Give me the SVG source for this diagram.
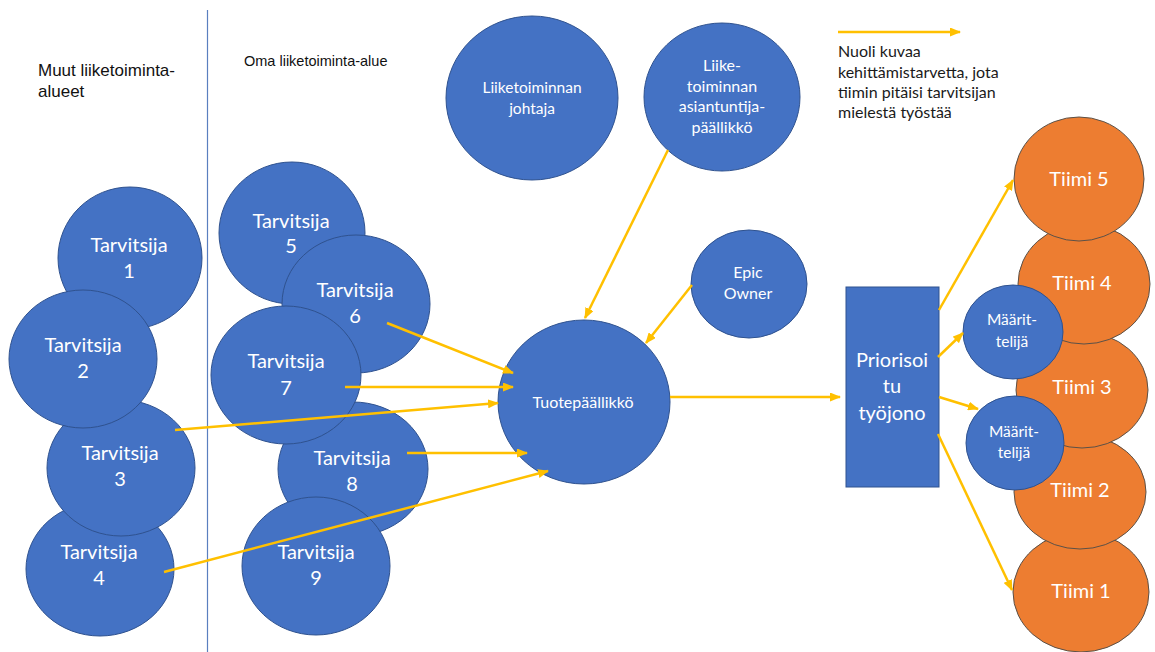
<svg xmlns="http://www.w3.org/2000/svg" width="1155" height="652" viewBox="0 0 1155 652">
  <style>
    .bg { fill: #ffffff; }
    .blue { fill: #4472C4; stroke: #2F528F; stroke-width: 1; }
    .orange { fill: #ED7D31; stroke: #5b5148; stroke-width: 1; }
    .lbl { font-family: Lato, "Liberation Sans", sans-serif; fill: #ffffff; text-anchor: middle; }
    .big { font-size: 20px; }
    .mid { font-size: 16px; }
    .head { font-family: "Liberation Sans", Arial, sans-serif; fill: #111111; }
    .legend { font-family: Lato, "Liberation Sans", sans-serif; font-size: 16px; fill: #1a1a1a; }
    .arrow { stroke: #FFC000; stroke-width: 2.5; fill: none; marker-end: url(#head); }
  </style>
  <defs>
    <marker id="head" markerUnits="userSpaceOnUse" markerWidth="11" markerHeight="9" refX="10" refY="4.5" orient="auto">
      <path d="M0,0 L11,4.5 L0,9 z" fill="#FFC000"/>
    </marker>
  </defs>

  <rect class="bg" x="0" y="0" width="1155" height="652"/>

  <!-- divider between business areas -->
  <line x1="207.5" y1="10" x2="207.5" y2="652" stroke="#5a7fbf" stroke-width="1.2"/>

  <text class="head" font-size="17" x="38" y="76">Muut liiketoiminta-</text>
  <text class="head" font-size="17" x="38" y="97">alueet</text>
  <text class="head" font-size="14.5" x="244" y="66">Oma liiketoiminta-alue</text>

  <!-- other business areas -->
  <g id="tarvitsija1">
    <ellipse class="blue" cx="130" cy="258" rx="72" ry="71"/>
    <text class="lbl big" x="129" y="252">Tarvitsija</text>
    <text class="lbl big" x="129" y="278">1</text>
  </g>
  <g id="tarvitsija4">
    <ellipse class="blue" cx="100" cy="569" rx="74" ry="67"/>
    <text class="lbl big" x="99" y="559">Tarvitsija</text>
    <text class="lbl big" x="99" y="585">4</text>
  </g>
  <g id="tarvitsija3">
    <ellipse class="blue" cx="121" cy="468" rx="74" ry="68"/>
    <text class="lbl big" x="120" y="460">Tarvitsija</text>
    <text class="lbl big" x="120" y="486">3</text>
  </g>
  <g id="tarvitsija2">
    <ellipse class="blue" cx="83" cy="359" rx="74" ry="69"/>
    <text class="lbl big" x="83" y="352">Tarvitsija</text>
    <text class="lbl big" x="83" y="378">2</text>
  </g>

  <!-- own business area -->
  <g id="tarvitsija5">
    <ellipse class="blue" cx="292" cy="233" rx="73" ry="71"/>
    <text class="lbl big" x="291" y="228">Tarvitsija</text>
    <text class="lbl big" x="291" y="253">5</text>
  </g>
  <g id="tarvitsija6">
    <ellipse class="blue" cx="356" cy="304" rx="74" ry="69"/>
    <text class="lbl big" x="355" y="297">Tarvitsija</text>
    <text class="lbl big" x="355" y="323">6</text>
  </g>
  <g id="tarvitsija8">
    <ellipse class="blue" cx="353" cy="469" rx="75" ry="67"/>
    <text class="lbl big" x="352" y="465">Tarvitsija</text>
    <text class="lbl big" x="352" y="491">8</text>
  </g>
  <g id="tarvitsija7">
    <ellipse class="blue" cx="286" cy="375" rx="75" ry="69"/>
    <text class="lbl big" x="286" y="368">Tarvitsija</text>
    <text class="lbl big" x="286" y="395">7</text>
  </g>
  <g id="tarvitsija9">
    <ellipse class="blue" cx="316" cy="566" rx="74" ry="69"/>
    <text class="lbl big" x="316" y="559">Tarvitsija</text>
    <text class="lbl big" x="316" y="585">9</text>
  </g>

  <!-- management -->
  <g id="liiketoiminnan-johtaja">
    <ellipse class="blue" cx="532" cy="98" rx="86" ry="82"/>
    <text class="lbl" font-size="15.5" x="532" y="93">Liiketoiminnan</text>
    <text class="lbl" font-size="15.5" x="532" y="114">johtaja</text>
  </g>
  <g id="asiantuntijapaallikko">
    <ellipse class="blue" cx="722" cy="97" rx="78" ry="74"/>
    <text class="lbl mid" x="722" y="71">Liike-</text>
    <text class="lbl mid" x="722" y="92">toiminnan</text>
    <text class="lbl mid" x="722" y="112">asiantuntija-</text>
    <text class="lbl mid" x="722" y="133">päällikkö</text>
  </g>
  <g id="epic-owner">
    <ellipse class="blue" cx="749" cy="284" rx="58" ry="54"/>
    <text class="lbl mid" x="748" y="278">Epic</text>
    <text class="lbl mid" x="748" y="299">Owner</text>
  </g>
  <g id="tuotepaallikko">
    <ellipse class="blue" cx="584" cy="402" rx="86" ry="82"/>
    <text class="lbl mid" x="583" y="408">Tuotepäällikkö</text>
  </g>

  <!-- backlog -->
  <g id="tyojono">
    <rect class="blue" x="846" y="287" width="93" height="200"/>
    <text class="lbl big" x="892" y="367">Priorisoi</text>
    <text class="lbl big" x="892" y="393">tu</text>
    <text class="lbl big" x="892" y="420">työjono</text>
  </g>

  <!-- teams -->
  <g id="tiimi1">
    <ellipse class="orange" cx="1081" cy="592" rx="68" ry="60"/>
    <text class="lbl big" x="1081" y="598">Tiimi 1</text>
  </g>
  <g id="tiimi2">
    <ellipse class="orange" cx="1080" cy="492" rx="66" ry="57"/>
    <text class="lbl big" x="1080" y="497">Tiimi 2</text>
  </g>
  <g id="tiimi3">
    <ellipse class="orange" cx="1082" cy="390" rx="66" ry="58"/>
    <text class="lbl big" x="1082" y="394">Tiimi 3</text>
  </g>
  <g id="tiimi4">
    <ellipse class="orange" cx="1084" cy="284" rx="66" ry="60"/>
    <text class="lbl big" x="1082" y="290">Tiimi 4</text>
  </g>
  <g id="tiimi5">
    <ellipse class="orange" cx="1079" cy="179" rx="65" ry="62"/>
    <text class="lbl big" x="1079" y="186">Tiimi 5</text>
  </g>

  <!-- specifiers -->
  <g id="maarittelija1">
    <ellipse class="blue" cx="1013" cy="332" rx="50" ry="47"/>
    <text class="lbl" font-size="15.5" x="1012" y="325">Määrit-</text>
    <text class="lbl" font-size="15.5" x="1012" y="347">telijä</text>
  </g>
  <g id="maarittelija2">
    <ellipse class="blue" cx="1015" cy="443" rx="49" ry="47"/>
    <text class="lbl" font-size="15.5" x="1014" y="437">Määrit-</text>
    <text class="lbl" font-size="15.5" x="1014" y="458">telijä</text>
  </g>

  <!-- legend -->
  <g id="legend">
    <line class="arrow" x1="838" y1="32" x2="960" y2="32"/>
    <text class="legend" x="838" y="57">Nuoli kuvaa</text>
    <text class="legend" x="838" y="78">kehittämistarvetta, jota</text>
    <text class="legend" x="838" y="98">tiimin pitäisi tarvitsijan</text>
    <text class="legend" x="838" y="118">mielestä työstää</text>
  </g>

  <!-- connectors -->
  <g id="connectors">
    <line class="arrow" x1="668" y1="150" x2="585" y2="318"/>
    <line class="arrow" x1="692" y1="285" x2="646" y2="343"/>
    <line class="arrow" x1="387" y1="323" x2="513" y2="373"/>
    <line class="arrow" x1="345" y1="387" x2="513" y2="387"/>
    <line class="arrow" x1="175" y1="430" x2="498" y2="403"/>
    <line class="arrow" x1="407" y1="453" x2="527" y2="453"/>
    <line class="arrow" x1="164" y1="572" x2="548" y2="471"/>
    <line class="arrow" x1="670" y1="397" x2="840" y2="397"/>
    <line class="arrow" x1="939" y1="310" x2="1013" y2="180"/>
    <line class="arrow" x1="938" y1="357" x2="963" y2="333"/>
    <line class="arrow" x1="939" y1="397" x2="978" y2="409"/>
    <line class="arrow" x1="938" y1="434" x2="1012" y2="590"/>
  </g>
</svg>
